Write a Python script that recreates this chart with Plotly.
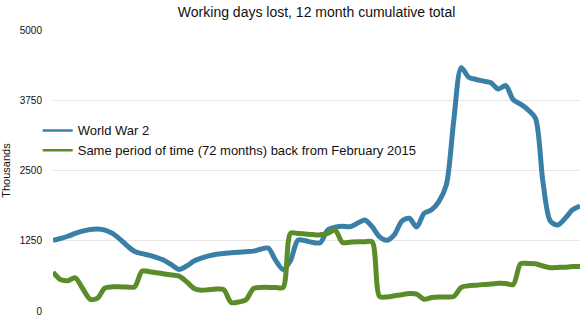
import plotly.graph_objects as go

months = list(range(72))

ww2 = [1260, 1290, 1330, 1380, 1420, 1450, 1460, 1440, 1380, 1280,
       1160, 1060, 1020, 990, 950, 900, 820, 740, 800, 890,
       940, 980, 1010, 1025, 1035, 1045, 1055, 1065, 1100, 1120,
       900, 740, 900, 1260, 1250, 1220, 1215, 1440, 1490, 1510,
       1500, 1560, 1620, 1500, 1320, 1260, 1360, 1600, 1650, 1495,
       1740, 1800, 1950, 2250, 3400, 4330, 4160, 4120, 4090, 4060,
       3950, 4010, 3760, 3680, 3580, 3430, 2300, 1600, 1530, 1650,
       1800, 1870]

recent = [690, 560, 540, 590, 400, 210, 230, 410, 430, 430,
          425, 430, 710, 700, 680, 660, 640, 620, 520, 400,
          370, 380, 390, 380, 150, 160, 200, 400, 420, 420,
          420, 420, 1380, 1380, 1370, 1360, 1355, 1380, 1440, 1220,
          1225, 1230, 1230, 1230, 260, 250, 270, 290, 310, 300,
          210, 240, 250, 250, 260, 420, 450, 460, 470, 480,
          495, 490, 470, 840, 845, 840, 800, 770, 775, 780,
          790, 790]

y_ticks = [0, 1250, 2500, 3750, 5000]
names = ["World War 2", "Same period of time (72 months) back from February 2015"]
colors = ["#3a80a6", "#5b8c2a"]

fig = go.Figure()
for vals, name, col in [(ww2, names[0], colors[0]), (recent, names[1], colors[1])]:
    fig.add_trace(go.Scatter(x=months, y=vals, mode="lines", name=name,
                             line=dict(color=col, width=5, shape="spline", smoothing=0.8),
                             showlegend=False, hoverinfo="y"))
for name, col in zip(names, colors):
    fig.add_trace(go.Scatter(x=[None], y=[None], mode="lines", name=name,
                             line=dict(color=col, width=2.5), showlegend=True))

fig.update_layout(
    width=581, height=317,
    margin=dict(l=53, r=1, t=30, b=6),
    paper_bgcolor="white", plot_bgcolor="white",
    font=dict(family="Liberation Sans, Arial, sans-serif", color="#111", size=10),
    title=dict(text="Working days lost, 12 month cumulative total", x=0.545, xanchor="center",
               y=0.962, yanchor="middle", font=dict(size=14, color="#111")),
    showlegend=True,
    legend=dict(x=-0.029, y=0.607, xanchor="left", yanchor="middle",
                bgcolor="rgba(0,0,0,0)", font=dict(size=13, color="#111"),
                tracegroupgap=0, itemwidth=30),
    xaxis=dict(range=[0, 71], showgrid=False, showticklabels=False, zeroline=False,
               showline=False, ticks=""),
    yaxis=dict(range=[0, 5000], tickvals=y_ticks, ticktext=[str(v) for v in y_ticks],
               showgrid=True, gridcolor="#e6e6e6", gridwidth=1, zeroline=False,
               showline=False, ticks="", ticklabelstandoff=10,
               tickfont=dict(size=10, color="#111"),
               title=dict(text="Thousands", font=dict(size=11, color="#111"), standoff=8)),
)

fig.write_html("out.html")
